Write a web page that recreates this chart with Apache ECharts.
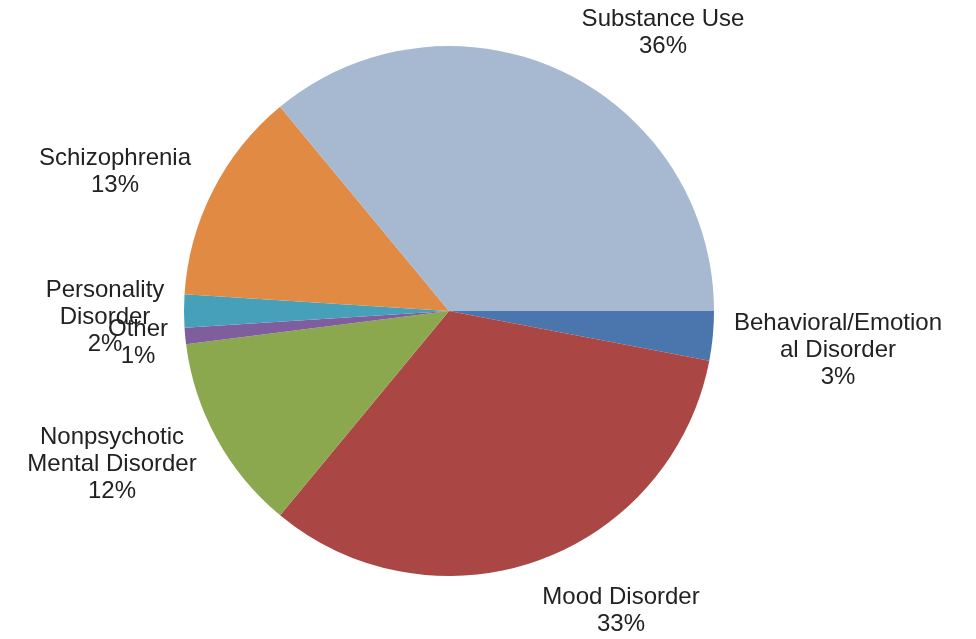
<!doctype html>
<html>
<head>
<meta charset="utf-8" />
<script src="https://cdn.jsdelivr.net/npm/echarts@6/dist/echarts.min.js"></script>
<style>
  body { margin: 0; background: #ffffff; }
  #chart { width: 976px; height: 639px; }
</style>
</head>
<body>
<div id="chart"></div>
<script>
// slices go clockwise from 3 o'clock
const categories = [
  "Behavioral/Emotion\nal Disorder",
  "Mood Disorder",
  "Nonpsychotic\nMental Disorder",
  "Other",
  "Personality\nDisorder",
  "Schizophrenia",
  "Substance Use"
];
const percents = [3, 33, 12, 1, 2, 13, 36];
const colors = ["#4a76ad", "#aa4643", "#8ba84e", "#7f5e9d", "#46a0ba", "#e08a44", "#a6b9d0"];

// label centre spots
const labelSpots = [
  [838, 350], [621, 611], [112, 464], [138, 343],
  [105, 317], [115, 172], [663, 33]
];

const chart = echarts.init(document.getElementById("chart"), null, { renderer: "canvas" });
chart.setOption({
  animation: false,
  backgroundColor: "#ffffff",
  series: [{
    type: "pie",
    center: [449, 311],
    radius: [0, 265],
    startAngle: 0,
    clockwise: true,
    data: categories.map((name, i) => ({
      name,
      value: percents[i],
      itemStyle: { color: colors[i] }
    })),
    label: {
      show: true,
      position: "outside",
      formatter: (p) => p.name + "\n" + p.value + "%",
      fontFamily: "Liberation Sans, Arial, sans-serif",
      fontSize: 24,
      lineHeight: 27,
      color: "#222222",
      align: "center",
      overflow: "none",
      width: 300
    },
    labelLine: { show: false },
    labelLayout: (params) => {
      const s = labelSpots[params.dataIndex];
      return { x: s[0], y: s[1], align: "center", verticalAlign: "middle", moveOverlap: null };
    },
    emphasis: { disabled: true }
  }]
});
</script>
</body>
</html>
